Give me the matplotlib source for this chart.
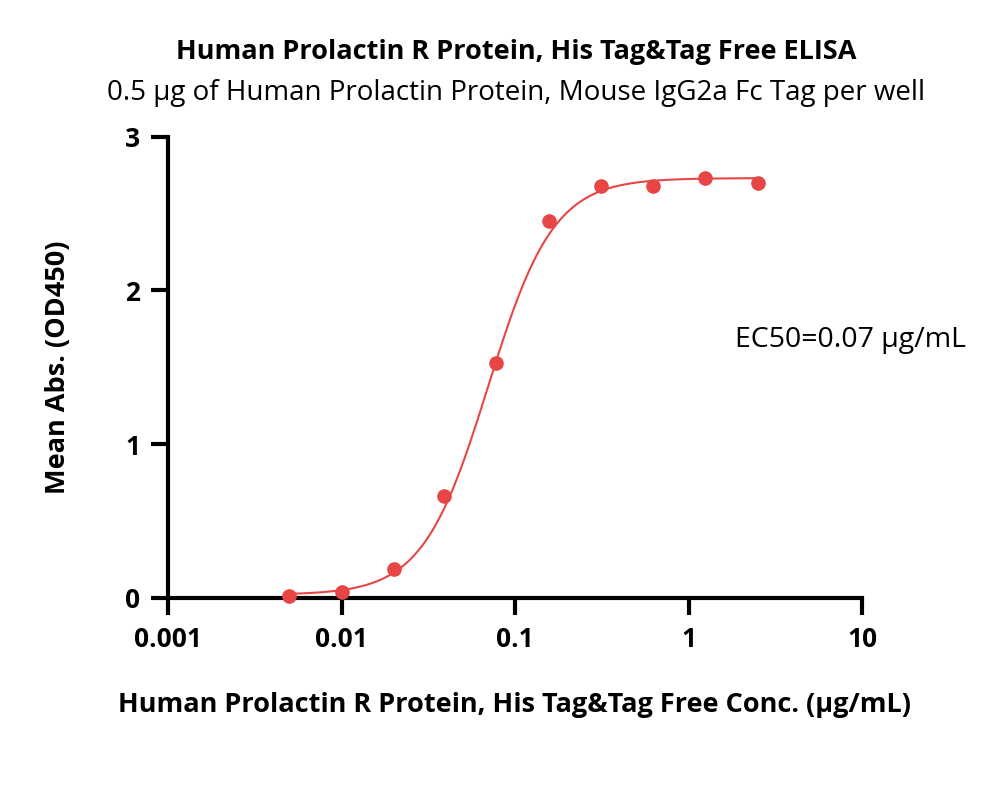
import numpy as np
import matplotlib
matplotlib.use("Agg")
import matplotlib.pyplot as plt

plt.rcParams['font.family'] = ['Open Sans', 'DejaVu Sans']

# concentrations (µg/mL) and mean OD450
conc = [0.005, 0.01, 0.02, 0.039, 0.078, 0.156, 0.3125, 0.625, 1.25, 2.5]
od450 = [0.01, 0.04, 0.19, 0.66, 1.53, 2.45, 2.68, 2.68, 2.73, 2.70]

# 4PL fit parameters
bottom, top, ec50, hill = 0.02, 2.73, 0.07, 2.3

x_ticks = [0.001, 0.01, 0.1, 1, 10]
x_labels = ['0.001', '0.01', '0.1', '1', '10']
y_ticks = [0, 1, 2, 3]

red = '#E84545'

fig = plt.figure(figsize=(10, 7.94), dpi=100)
ax = fig.add_axes([0.168, 0.247, 0.694, 0.581])

xs = np.logspace(np.log10(conc[0]), np.log10(conc[-1]), 300)
ys = bottom + (top - bottom) / (1 + (ec50 / xs) ** hill)
ax.plot(xs, ys, color=red, lw=1.5, zorder=2)
ax.plot(conc, od450, 'o', color=red, ms=9.5, zorder=3, clip_on=False)

ax.set_xscale('log')
ax.set_xlim(0.001, 10)
ax.set_ylim(0, 3)
ax.set_xticks(x_ticks)
ax.set_xticklabels(x_labels)
ax.xaxis.set_minor_locator(matplotlib.ticker.NullLocator())
ax.set_yticks(y_ticks)

for s in ['top', 'right']:
    ax.spines[s].set_visible(False)
for s in ['left', 'bottom']:
    ax.spines[s].set_linewidth(3)
ax.tick_params(width=3, length=12, labelsize=19, pad=8)
for lab in ax.get_xticklabels() + ax.get_yticklabels():
    lab.set_fontweight('bold')

ax.set_ylabel('Mean Abs. (OD450)', fontsize=19.5, fontweight='bold', labelpad=39)
ax.set_xlabel('Human Prolactin R Protein, His Tag&Tag Free Conc. (\u03bcg/mL)',
              fontsize=19.5, fontweight='bold', labelpad=28)

fig.text(0.516, 0.934, 'Human Prolactin R Protein, His Tag&Tag Free ELISA',
         ha='center', va='center', fontsize=19.5, fontweight='bold')
fig.text(0.516, 0.883, '0.5 \u03bcg of Human Prolactin Protein, Mouse IgG2a Fc Tag per well',
         ha='center', va='center', fontsize=20)
ax.text(0.735, 0.572, 'EC50=0.07 \u03bcg/mL', transform=fig.transFigure,
        ha='left', va='center', fontsize=20.5)

fig.savefig('out.png', dpi=100)
